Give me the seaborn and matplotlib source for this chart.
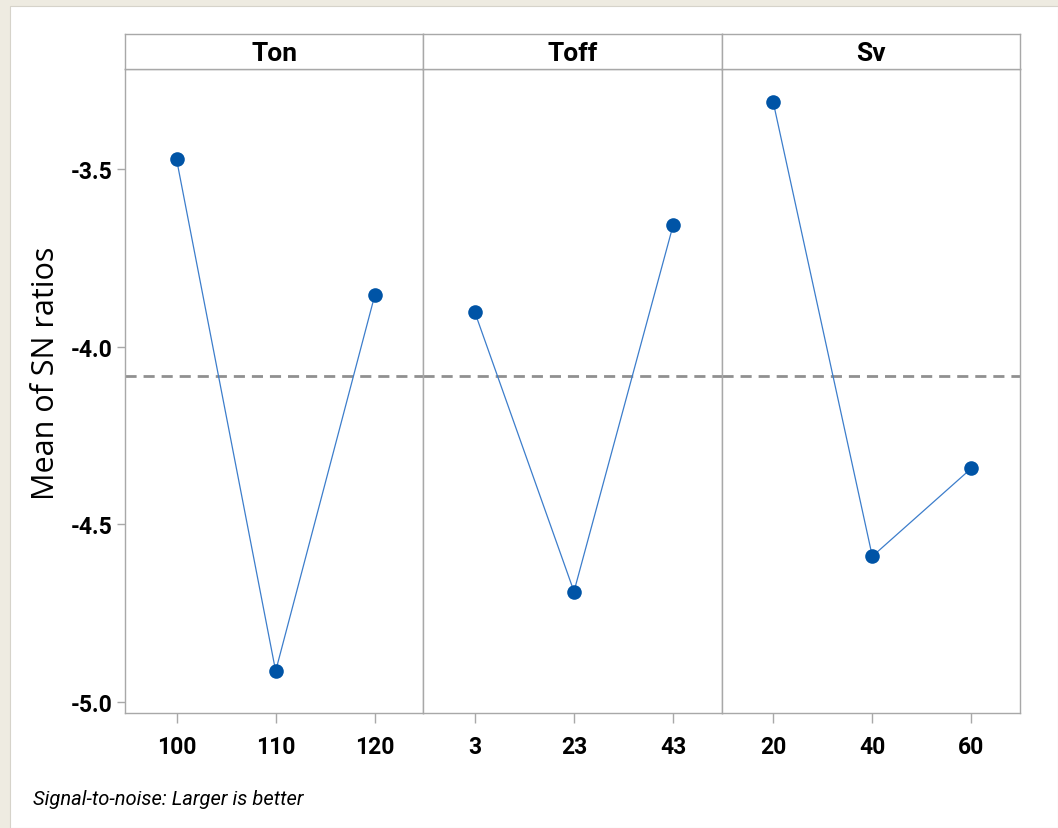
import matplotlib
matplotlib.use("Agg")
import matplotlib.pyplot as plt
import seaborn as sns
import pandas as pd
from matplotlib.patches import Rectangle

sns.set_style("white")

factors = ["Ton", "Toff", "Sv"]
ton_levels = ["100", "110", "120"]
toff_levels = ["3", "23", "43"]
sv_levels = ["20", "40", "60"]
ton_sn = [-3.472, -4.913, -3.855]
toff_sn = [-3.903, -4.689, -3.658]
sv_sn = [-3.311, -4.590, -4.342]
y_ticks = [-3.5, -4.0, -4.5, -5.0]
overall_mean = -4.081
footnote = "Signal-to-noise: Larger is better"
ylabel = "Mean of SN ratios"

levels = [ton_levels, toff_levels, sv_levels]
values = [ton_sn, toff_sn, sv_sn]

plt.rcParams['font.family'] = ['Roboto', 'DejaVu Sans']
plt.rcParams['text.color'] = 'black'

W, H = 1058, 829
fig = plt.figure(figsize=(W / 100, H / 100), dpi=100)
fig.patch.set_facecolor("#EEEBE1")
fig.add_artist(Rectangle((10 / W, 0), 1 - 10 / W, 1 - 7 / H, transform=fig.transFigure,
                         facecolor="white", edgecolor="#D6D3CA", lw=0.8, zorder=0))

left, right = 125 / W, 1020 / W
bottom, top = 1 - 714 / H, 1 - 70 / H
htop = 1 - 35 / H
pw = (right - left) / 3
spine_c = "#A8A8A8"

for i, (fac, lev, val) in enumerate(zip(factors, levels, values)):
    ax = fig.add_axes([left + i * pw, bottom, pw, top - bottom])
    df = pd.DataFrame({"level": lev, "sn": val})
    sns.pointplot(data=df, x="level", y="sn", ax=ax, color="#0054A6",
                  markers="o", linestyles="-", errorbar=None,
                  markersize=10.5, linewidth=0)
    for ln in ax.lines:
        ln.set_linewidth(0.9)
        ln.set_color("#3C7DCB")
        ln.set_markerfacecolor("#0054A6")
        ln.set_markeredgecolor("#0054A6")
    ax.axhline(overall_mean, color="#909090", lw=2, ls=(0, (4, 2.5)), zorder=0)
    ax.set_xlim(-0.52, 2.49)
    ax.set_ylim(-5.031, -3.218)
    ax.set_xlabel("")
    ax.set_ylabel("")
    for s in ax.spines.values():
        s.set_color(spine_c)
        s.set_linewidth(1)
    ax.tick_params(axis="x", length=7, width=1, color=spine_c, labelsize=16.5, pad=9,
                   direction="out", bottom=True)
    ax.set_yticks(y_ticks)
    if i == 0:
        ax.set_yticklabels([f"{t:.1f}" for t in y_ticks])
        ax.tick_params(axis="y", length=6, width=1, color=spine_c, labelsize=16.5, pad=3,
                       direction="out", left=True)
    else:
        ax.tick_params(axis="y", left=False, labelleft=False)
    for lab in ax.get_xticklabels() + ax.get_yticklabels():
        lab.set_fontweight("bold")
        lab.set_color("black")
    hx = fig.add_axes([left + i * pw, top, pw, htop - top])
    hx.set_xticks([])
    hx.set_yticks([])
    hx.set_facecolor("white")
    for s in hx.spines.values():
        s.set_color(spine_c)
        s.set_linewidth(1)
    hx.text(0.5, 0.45, fac, ha="center", va="center", fontsize=19,
            fontweight="bold", color="black", transform=hx.transAxes)

fig.text(46 / W, 1 - 373 / H, ylabel, rotation=90, ha="center", va="center",
         fontsize=22, color="black", family=["Open Sans", "DejaVu Sans"])
fig.text(33 / W, 1 - 800 / H, footnote, ha="left", va="center", fontsize=14.5,
         style="italic", color="black")

fig.savefig("out.png", dpi=100, facecolor=fig.get_facecolor())
